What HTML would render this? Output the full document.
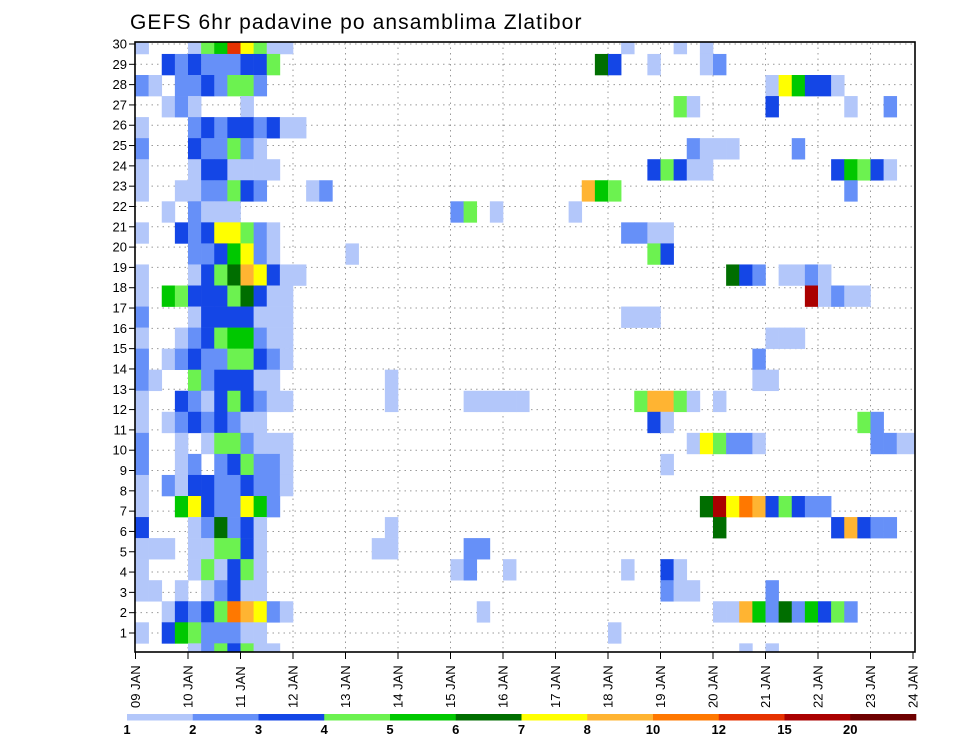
<!DOCTYPE html>
<html><head><meta charset="utf-8">
<style>
html,body{margin:0;padding:0;background:#fff;}
svg{display:block;font-family:"Liberation Sans",sans-serif;}
</style></head>
<body>
<svg id="chart" width="960" height="742" viewBox="0 0 960 742">
  <text x="130" y="29" font-size="21" letter-spacing="1.1" fill="#000">GEFS 6hr padavine po ansamblima Zlatibor</text>
  <defs><clipPath id="plotclip"><rect x="135" y="42" width="780" height="610"/></clipPath></defs>
  <g id="grid"></g>
  <g id="cells" clip-path="url(#plotclip)"></g>
  <g id="axes"></g>
  <g id="colorbar"></g>
</svg>
<script>
// ---- data ----
const dayLabels = ["09 JAN","10 JAN","11 JAN","12 JAN","13 JAN","14 JAN","15 JAN","16 JAN","17 JAN","18 JAN","19 JAN","20 JAN","21 JAN","22 JAN","23 JAN","24 JAN"];
const memberTicks = [1,2,3,4,5,6,7,8,9,10,11,12,13,14,15,16,17,18,19,20,21,22,23,24,25,26,27,28,29,30];
const legendLabels = ["1","2","3","4","5","6","7","8","10","12","15","20"];
const levelColors = ["#b3c7fa","#6690f8","#1446e6","#6cf250","#00c800","#006e00","#ffff00","#ffb432","#ff7800","#e63200","#aa0000","#6e0000"];
const levelCodes = "123456789abc";
// rows top->bottom: dense left block (from step 0), one char per 6h step ('.' = none)
const leftRows = [
"1...145a7411",
"..323222334",
"21.2232442",
"..121...1",
"1...232332311",
"2...322421",
"1...1331111",
"1..1122432...12",
"..1.2111",
"1..32377421",
"....2235721",
"1...134687311",
"1.5433346311",
"2...13333111",
"1..123455211",
"2.1232244321",
"21..4233311",
"1..321343211",
"1.12323211",
"2..1.1442111",
"2..12.234221",
"1.2133223221",
"1..57322752",
"3...126231",
"111.114431",
"1...141341",
"11.1.12311",
"..1323498721",
"1.35422211",
"....1243411"
];
// sparse cells further right: [step, level code]
const rightCells = [
[[37,"1"],[41,"1"],[43,"1"]],
[[35,"6"],[36,"3"],[39,"1"],[43,"1"],[44,"2"]],
[[48,"1"],[49,"7"],[50,"5"],[51,"3"],[52,"3"],[53,"1"]],
[[41,"4"],[42,"1"],[48,"3"],[54,"1"],[57,"2"]],
[],
[[42,"2"],[43,"1"],[44,"1"],[45,"1"],[50,"2"]],
[[39,"3"],[40,"4"],[41,"3"],[42,"1"],[43,"1"],[53,"3"],[54,"5"],[55,"4"],[56,"3"],[57,"1"]],
[[34,"8"],[35,"5"],[36,"4"],[54,"2"]],
[[24,"2"],[25,"4"],[27,"1"],[33,"1"]],
[[37,"2"],[38,"2"],[39,"1"],[40,"1"]],
[[16,"1"],[39,"4"],[40,"3"]],
[[45,"6"],[46,"3"],[47,"2"],[49,"1"],[50,"1"],[51,"2"],[52,"1"]],
[[51,"b"],[52,"1"],[53,"2"],[54,"1"],[55,"1"]],
[[37,"1"],[38,"1"],[39,"1"]],
[[48,"1"],[49,"1"],[50,"1"]],
[[47,"2"]],
[[19,"1"],[47,"1"],[48,"1"]],
[[19,"1"],[25,"1"],[26,"1"],[27,"1"],[28,"1"],[29,"1"],[38,"4"],[39,"8"],[40,"8"],[41,"4"],[42,"1"],[44,"1"]],
[[39,"3"],[40,"1"],[55,"4"],[56,"2"]],
[[42,"1"],[43,"7"],[44,"4"],[45,"2"],[46,"2"],[47,"1"],[56,"2"],[57,"2"],[58,"1"],[59,"1"]],
[[40,"1"]],
[],
[[43,"6"],[44,"b"],[45,"7"],[46,"9"],[47,"8"],[48,"3"],[49,"4"],[50,"3"],[51,"2"],[52,"2"]],
[[19,"1"],[44,"6"],[53,"3"],[54,"8"],[55,"3"],[56,"2"],[57,"2"]],
[[18,"1"],[19,"1"],[25,"2"],[26,"2"]],
[[24,"1"],[25,"2"],[28,"1"],[37,"1"],[40,"3"],[41,"1"]],
[[40,"2"],[41,"1"],[42,"1"],[48,"2"]],
[[26,"1"],[44,"1"],[45,"1"],[46,"8"],[47,"5"],[48,"2"],[49,"6"],[50,"2"],[51,"5"],[52,"3"],[53,"4"],[54,"2"]],
[[36,"1"]],
[[46,"1"],[48,"1"]]
];
// ---- scales ----
const X0 = 135.5, DAYW = 52.5, STEPW = DAYW/4;
function xTime(step){ return X0 + step*STEPW; }
function xDay(d){ return X0 + d*DAYW; }
function yRowTop(i){ return 32.9 + i*21.05; }
function yTick(m){ return 44 + (30-m)*20.31; }
const NS = "http://www.w3.org/2000/svg";
function mk(tag, attrs, parent){ const e=document.createElementNS(NS,tag); for(const k in attrs) e.setAttribute(k,attrs[k]); parent.appendChild(e); return e; }

const grid=document.getElementById('grid'), cells=document.getElementById('cells'), axes=document.getElementById('axes'), cb=document.getElementById('colorbar');

memberTicks.forEach(m=>{
  const l=mk('line',{x1:135,x2:915,y1:yTick(m),y2:yTick(m),stroke:'#999','stroke-width':1,'stroke-dasharray':'1.5 4'},grid);
  
  
});
dayLabels.forEach((d,i)=>{
  const x=xDay(i); if(x<=136||x>=915) return;
  const l=mk('line',{x1:x,x2:x,y1:42,y2:652,stroke:'#999','stroke-width':1,'stroke-dasharray':'1.5 4'},grid);
  
  
});

function drawCell(i,s,c){
  if(c==='.') return;
  const lv=levelCodes.indexOf(c);
  const r=mk('rect',{x:xTime(s),y:yRowTop(i),width:STEPW+0.3,height:21.35,fill:levelColors[lv]},cells);
  
  
}
leftRows.forEach((row,i)=>{
  for(let s=0;s<row.length;s++) drawCell(i,s,row[s]);
  rightCells[i].forEach(p=>drawCell(i,p[0],p[1]));
});

const fr=mk('rect',{x:135,y:42,width:780,height:610,fill:'none',stroke:'#000','stroke-width':1.6},axes);



memberTicks.forEach(m=>{
  const y=yTick(m);
  mk('line',{x1:129,x2:135,y1:y,y2:y,stroke:'#000','stroke-width':1},axes);
  const t=mk('text',{x:127,y:y+4.5,'font-size':13,'text-anchor':'end',fill:'#000'},axes);
  t.textContent=m;
  
  
});

dayLabels.forEach((d,i)=>{
  let x=xDay(i); if(x>913) x=913;
  mk('line',{x1:x,x2:x,y1:652,y2:659,stroke:'#000','stroke-width':1},axes);
  const t=mk('text',{transform:`translate(${x+4.5},708) rotate(-90)`,'font-size':13,fill:'#000'},axes);
  t.textContent=d;
  
  
});

const CB0=127, CBW=65.75;
levelColors.forEach((col,i)=>{
  const r=mk('rect',{x:CB0+i*CBW,y:714,width:CBW+0.3,height:6.5,fill:col},cb);
  
  
});
legendLabels.forEach((lab,i)=>{
  const t=mk('text',{x:CB0+i*CBW,y:734,'font-size':13,'font-weight':'bold','text-anchor':'middle',fill:'#000'},cb);
  t.textContent=lab;
  
  
});
</script>
</body></html>
